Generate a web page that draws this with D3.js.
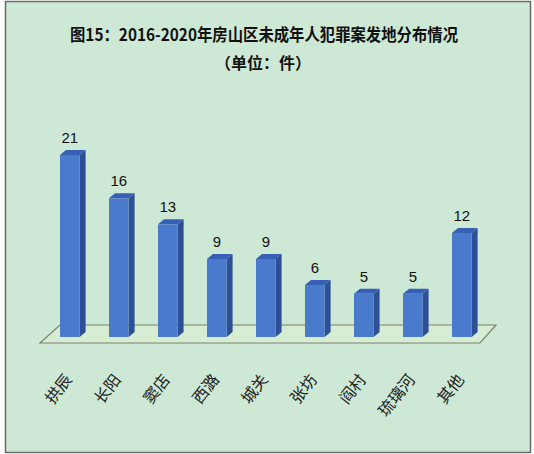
<!DOCTYPE html>
<html>
<head>
<meta charset="utf-8">
<script src="https://cdn.jsdelivr.net/npm/d3@7"></script>
<style>
  body { margin: 0; background: #fff; }
  svg { display: block; }
</style>
</head>
<body>
<div id="chart"></div>
<script>
// data
var categories = ["拱辰", "长阳", "窦店", "西潞", "城关", "张坊", "阎村", "琉璃河", "其他"];
var counts = [21, 16, 13, 9, 9, 6, 5, 5, 12];
var titleLines = ["图15：2016-2020年房山区未成年人犯罪案发地分布情况", "（单位：件）"];

var W = 534, H = 454;
var depthX = 6, depthY = 5;

var svg = d3.select("#chart").append("svg").attr("width", W).attr("height", H);

// frame
svg.append("rect").attr("x", 5.5).attr("y", 1.5).attr("width", 525).attr("height", 451)
    .attr("fill", "#cde9d5").attr("stroke", "#6b6b6b").attr("stroke-width", 1.5);

svg.append("text")
    .attr("x", 264).attr("y", 41)
    .attr("text-anchor", "middle")
    .attr("textLength", 388).attr("lengthAdjust", "spacingAndGlyphs")
    .style("font-family", "'Noto Sans CJK SC', sans-serif")
    .style("font-size", "17px").style("font-weight", "bold")
    .style("fill", "#111")
    .text(titleLines[0]);

svg.append("text")
    .attr("x", 263).attr("y", 69)
    .attr("text-anchor", "middle")
    .style("font-family", "'Noto Sans CJK SC', sans-serif")
    .style("font-size", "16px").style("font-weight", "bold")
    .style("fill", "#111")
    .text(titleLines[1]);

var x = d3.scaleBand().domain(categories).range([45.3, 486.3]).paddingInner(0.6).paddingOuter(0.3);
var y = d3.scaleLinear().domain([0, 25]).range([337, 120.3]);

// floor
var floorFront = y(0) + 6, floorBack = y(0) - 12;
var floor = [[40, floorFront], [480, floorFront], [496, floorBack], [60, floorBack]];
svg.append("polygon")
    .attr("points", floor.map(function (p) { return p.join(","); }).join(" "))
    .attr("fill", "#d6ecd3").attr("stroke", "#7d8070").attr("stroke-width", 1.2);

var bw = x.bandwidth();
var bars = svg.selectAll("g.bar").data(counts).enter().append("g").attr("class", "bar");

bars.append("polygon")
    .attr("fill", "#2c4f96")
    .attr("points", function (d, i) {
        var x0 = x(categories[i]) + bw, yt = y(d), yb = y(0);
        return [[x0, yt], [x0 + depthX, yt - depthY], [x0 + depthX, yb - depthY], [x0, yb]].join(" ");
    });

bars.append("polygon")
    .attr("fill", "#3660b3")
    .attr("points", function (d, i) {
        var x0 = x(categories[i]), yt = y(d);
        return [[x0, yt], [x0 + depthX, yt - depthY], [x0 + bw + depthX, yt - depthY], [x0 + bw, yt]].join(" ");
    });

bars.append("rect")
    .attr("x", function (d, i) { return x(categories[i]); })
    .attr("y", function (d) { return y(d); })
    .attr("width", bw)
    .attr("height", function (d) { return y(0) - y(d); })
    .attr("fill", "#4a7acb");

bars.append("text")
    .attr("x", function (d, i) { return x(categories[i]) + bw / 2; })
    .attr("y", function (d) { return y(d) - 12; })
    .attr("text-anchor", "middle")
    .style("font-family", "'Liberation Sans Narrow', 'Liberation Sans', sans-serif")
    .style("font-size", "15px").style("fill", "#111")
    .text(function (d) { return d; });

svg.selectAll("text.cat").data(categories).enter().append("text")
    .attr("class", "cat")
    .attr("transform", function (d) { return "translate(" + (x(d) + bw / 2 - 7) + ",372) rotate(-52)"; })
    .attr("text-anchor", "end")
    .attr("dy", "0.8em")
    .style("font-family", "'Noto Sans CJK SC', sans-serif")
    .style("font-size", "16px").style("fill", "#222")
    .text(function (d) { return d; });
</script>
</body>
</html>
